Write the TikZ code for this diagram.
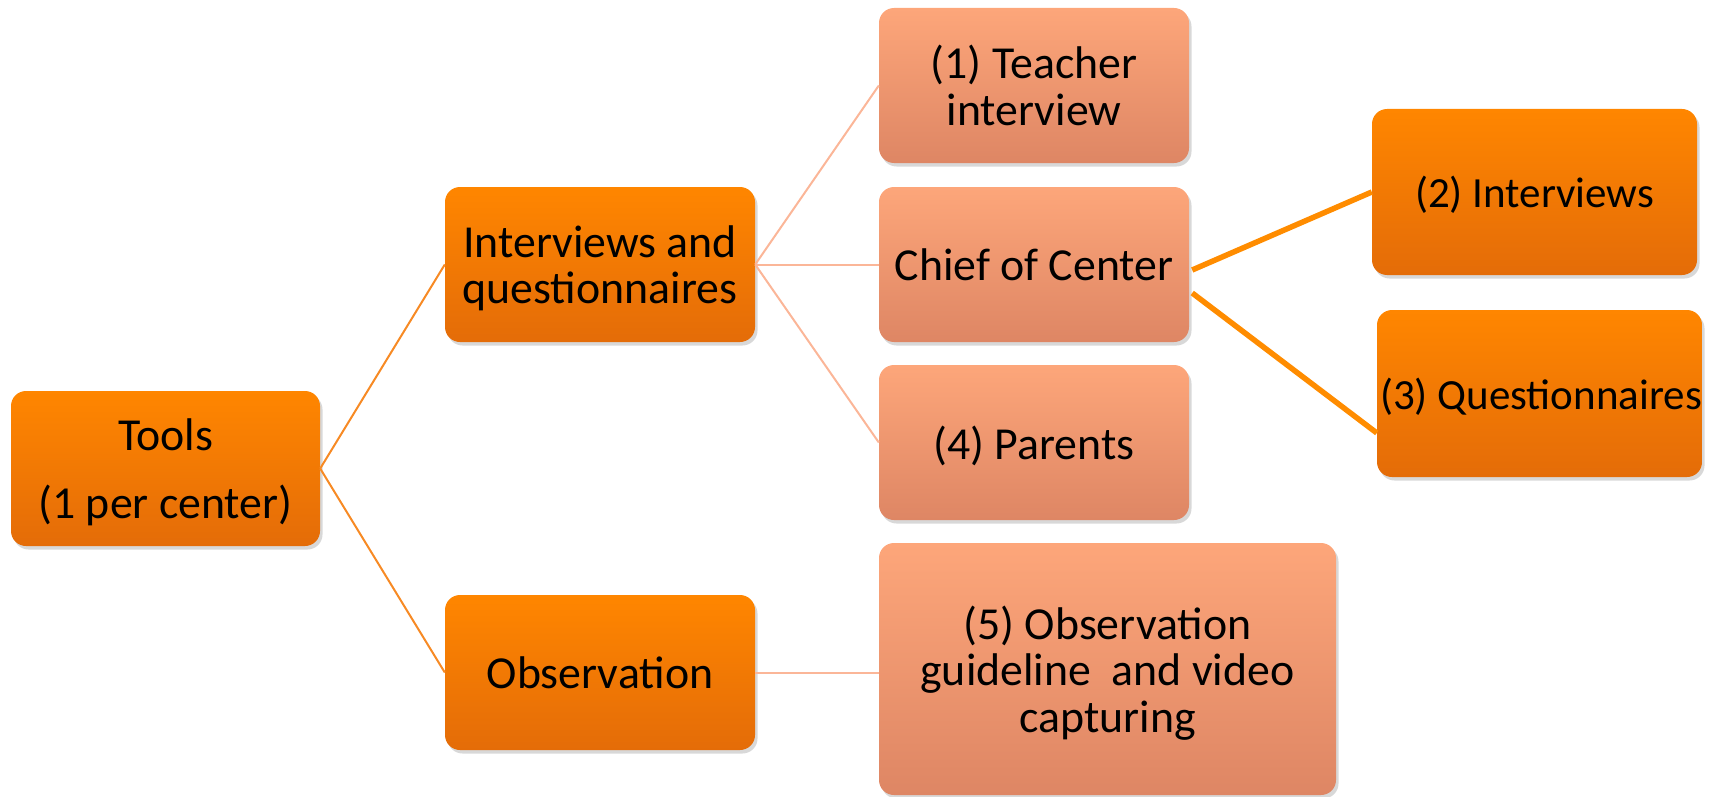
\documentclass[tikz,border=0pt]{standalone}
\usepackage{fontspec}
\setmainfont{Carlito}
\usetikzlibrary{calc,shadows}

\definecolor{darkTop}{RGB}{255,134,0}
\definecolor{darkBot}{RGB}{228,108,8}
\definecolor{lightTop}{RGB}{253,166,122}
\definecolor{lightBot}{RGB}{222,134,100}
\definecolor{rootLine}{RGB}{247,138,36}
\definecolor{softLine}{RGB}{251,182,152}
\definecolor{boldLine}{RGB}{255,140,0}

\tikzset{
  box/.style={rectangle, rounded corners=15pt, inner sep=0pt, align=center,
    minimum width=310pt, minimum height=155pt, text depth=0pt,
    font=\fontsize{45.8}{46.7}\selectfont, text=black,
    drop shadow={shadow xshift=2.5pt, shadow yshift=-3.5pt, opacity=0.22, fill=black!70}},
  smalltext/.style={font=\fontsize{43}{46.7}\selectfont},
  darkbox/.style={box, top color=darkTop, bottom color=darkBot},
  lightbox/.style={box, top color=lightTop, bottom color=lightBot},
  rootlink/.style={draw=rootLine, line width=2pt},
  softlink/.style={draw=softLine, line width=2pt},
  boldlink/.style={draw=boldLine, line width=5.5pt},
}

\begin{document}
\begin{tikzpicture}[x=1pt, y=-1pt]
  \useasboundingbox (0,0) rectangle (1720,797);

  % first level
  \node[darkbox, minimum width=309pt] (tools) at (165.5,468.5) {Tools\\[22pt](1 per center)};

  % second level
  \node[darkbox] (inter) at (600,264.5) {Interviews and\\questionnaires};
  \node[darkbox] (obs) at (600,672.5) {Observation};

  % third level
  \node[lightbox] (teacher) at (1034,85.5) {(1) Teacher\\interview};
  \node[lightbox] (chief) at (1034,264.5) {Chief of Center};
  \node[lightbox] (parents) at (1034,442.5) {(4) Parents};
  \node[lightbox, minimum width=457pt, minimum height=252pt] (video) at (1107.5,669)
    {(5) Observation\\guideline\ \ and video\\capturing};

  % fourth level
  \node[darkbox, smalltext, minimum width=325pt, minimum height=166pt] (intv) at (1534.5,192) {(2) Interviews};
  \node[darkbox, smalltext, minimum width=325pt, minimum height=167pt] (quest) at (1539.5,393.5)
    {\hspace*{3pt}(3) Questionnaires};

  % connectors
  \draw[rootlink] (tools.east) -- (inter.west);
  \draw[rootlink] (tools.east) -- (obs.west);
  \draw[softlink] (inter.east) -- (teacher.west);
  \draw[softlink] (inter.east) -- (chief.west);
  \draw[softlink] (inter.east) -- (parents.west);
  \draw[softlink] (obs.east) -- (video.west |- obs.east);

  \coordinate (chiefA) at ($(chief.east)+(3,5.5)$);
  \coordinate (chiefB) at ($(chief.east)+(3,28.5)$);
  \coordinate (questIn) at ($(quest.west)+(0,39.5)$);
  \draw[boldlink] (chiefA) -- (intv.west);
  \draw[boldlink] (chiefB) -- (questIn);
\end{tikzpicture}
\end{document}
